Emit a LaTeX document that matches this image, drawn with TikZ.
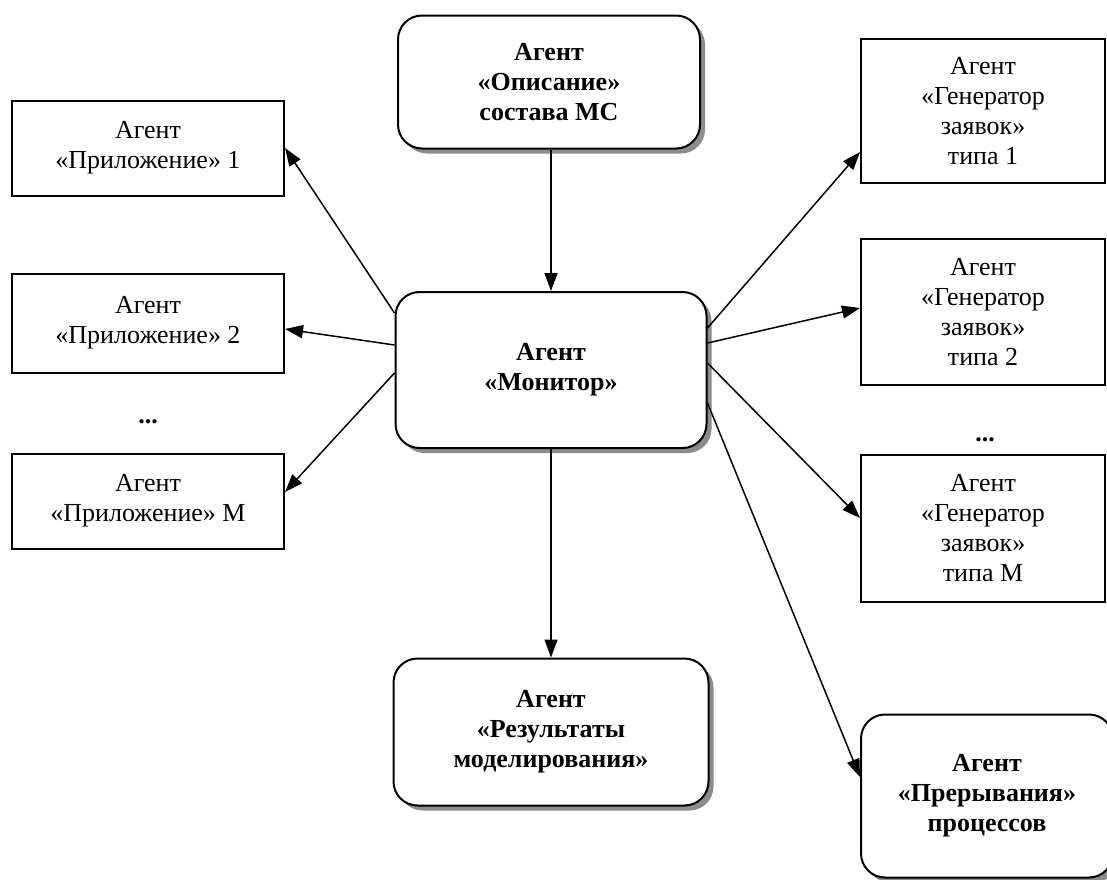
\documentclass[tikz,border=0pt]{standalone}
\usepackage{fontspec}
\setmainfont{Liberation Serif}
\usetikzlibrary{arrows.meta,shadows}
\newcommand\agentfont{\fontsize{26}{30}\selectfont}
\tikzset{
  agent/.style={draw, line width=2pt, align=center, inner sep=0pt, font=\agentfont},
  leftbox/.style={agent, minimum width=272pt, minimum height=95pt},
  genbox/.style={agent, minimum width=244pt, minimum height=146pt},
  rbox/.style={agent, rounded corners=24pt, fill=white, font=\agentfont\bfseries,
    drop shadow={shadow xshift=5pt, shadow yshift=-5pt, fill=black!45, opacity=1}},
  arr/.style={-{Triangle[length=18pt,width=13pt]}, line width=1.5pt},
}
\begin{document}
\begin{tikzpicture}[x=1pt,y=-1pt]
	\useasboundingbox (0,0) rectangle (1107,879);
	% central agents
	\node[rbox, minimum width=302pt, minimum height=133pt] (opis) at (549,82) {Агент\\«Описание»\\состава МС};
	\node[rbox, minimum width=311pt, minimum height=156pt] (mon) at (551,370) {Агент\\«Монитор»};
	\node[rbox, minimum width=315pt, minimum height=147pt] (res) at (551,732) {Агент\\«Результаты\\моделирования»};
	\node[rbox, minimum width=252pt, minimum height=163pt] (prer) at (987,796) {Агент\\«Прерывания»\\процессов};
	% applications
	\node[leftbox] (app1) at (148,148) {Агент\\«Приложение» 1};
	\node[leftbox, minimum height=99pt] (app2) at (148,323) {Агент\\«Приложение» 2};
	\node[font=\agentfont\bfseries] (appdots) at (148,422) {...};
	\node[leftbox] (appM) at (148,501) {Агент\\«Приложение» М};
	% generators
	\node[genbox, minimum height=144pt] (gen1) at (983,111) {Агент\\«Генератор\\заявок»\\типа 1};
	\node[genbox] (gen2) at (983,312) {Агент\\«Генератор\\заявок»\\типа 2};
	\node[font=\agentfont\bfseries] (gendots) at (985,440) {...};
	\node[genbox, minimum height=147pt] (genM) at (983,528) {Агент\\«Генератор\\заявок»\\типа М};
	% connectors
	\draw[arr] (mon.north |- opis.south) -- (mon);
	\draw[arr] (mon) -- (res);
	\draw[arr] ([yshift=57pt]mon.west) -- (app1.east);
	\draw[arr] ([yshift=25pt]mon.west) -- ([yshift=-6pt]app2.east);
	\draw[arr] ([yshift=-3pt]mon.west) -- ([yshift=9pt]appM.east);
	\draw[arr] ([yshift=42pt]mon.east) -- ([yshift=-41pt]gen1.west);
	\draw[arr] ([yshift=27pt]mon.east) -- ([yshift=4pt]gen2.west);
	\draw[arr] ([yshift=7pt]mon.east) -- ([yshift=10pt]genM.west);
	\draw[arr] ([yshift=-33pt]mon.east) -- ([yshift=19pt]prer.west);
\end{tikzpicture}
\end{document}
